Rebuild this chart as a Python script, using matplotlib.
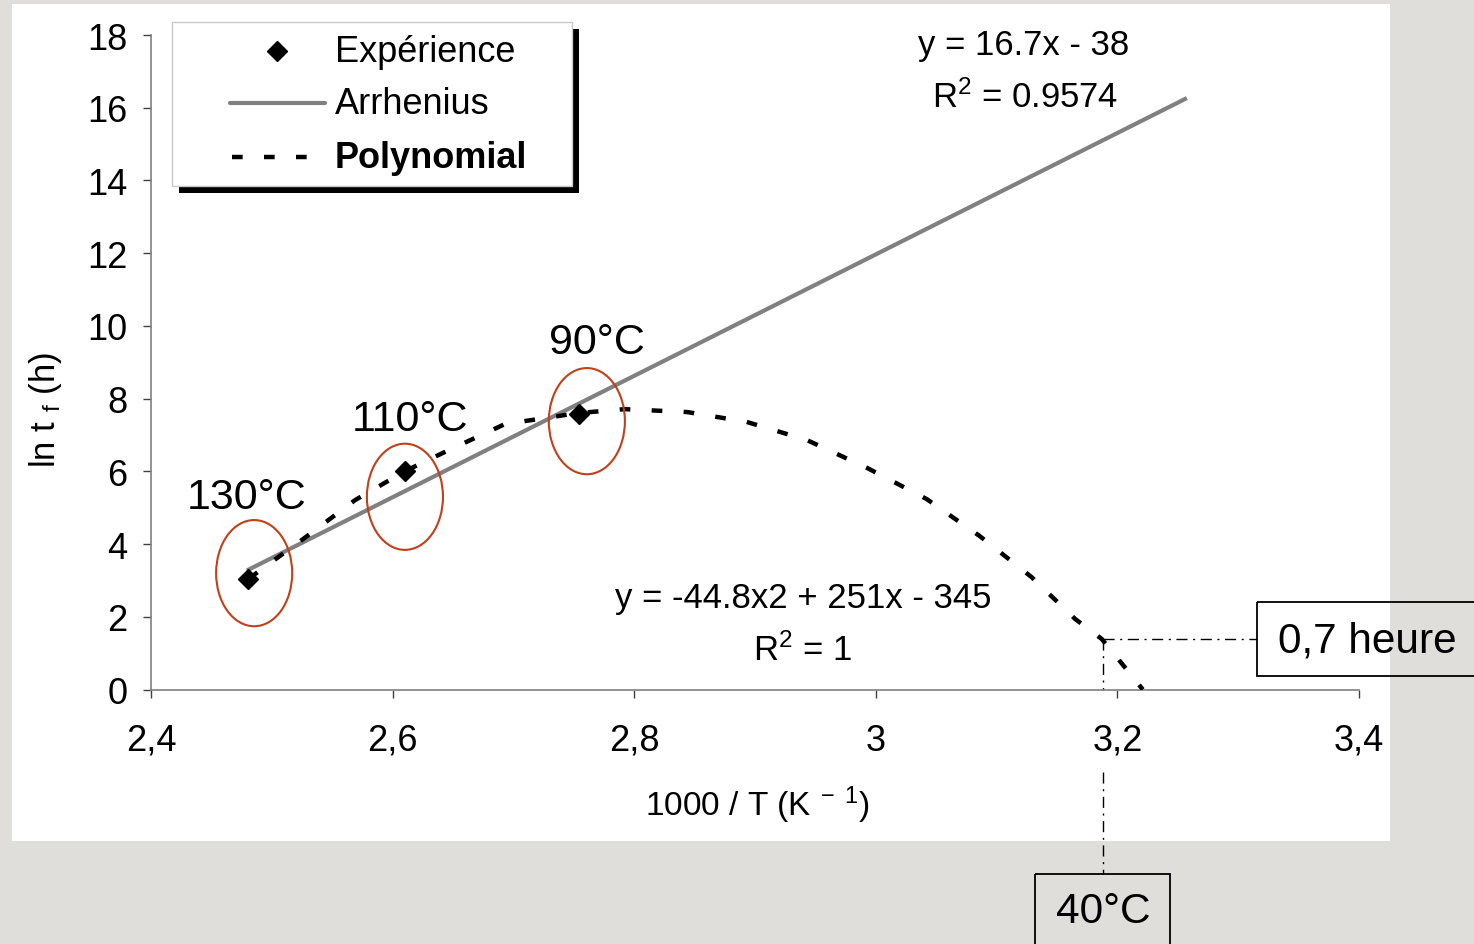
import matplotlib
matplotlib.use("Agg")
import matplotlib.pyplot as plt
import matplotlib.transforms as mtransforms
from matplotlib.patches import Rectangle, Ellipse
from matplotlib.lines import Line2D

plt.rcParams['font.family'] = ['Liberation Sans', 'DejaVu Sans']
plt.rcParams['mathtext.fontset'] = 'custom'
plt.rcParams['mathtext.rm'] = 'Liberation Sans'
plt.rcParams['mathtext.it'] = 'Liberation Sans:italic'

# experimental points (1000/T, ln tf)
temp_labels = ['130°C', '110°C', '90°C']
exp_x = [2.4805, 2.610, 2.754]
exp_y = [3.03, 6.00, 7.57]

# Arrhenius fit line (end points)
arr_x = [2.481, 3.256]
arr_y = [3.30, 16.24]

# polynomial trend line
poly_x = [2.481, 2.526, 2.569, 2.610, 2.645, 2.693, 2.753, 2.792, 2.844, 2.893,
          2.943, 2.993, 3.042, 3.086, 3.129, 3.165, 3.187, 3.204, 3.221]
poly_y = [3.05, 4.14, 5.21, 6.00, 6.56, 7.30, 7.60, 7.71, 7.63, 7.36,
          6.86, 6.09, 5.24, 4.22, 3.09, 1.94, 1.39, 0.70, 0.0]

# extrapolated point (40°C, 0,7 heure)
x40 = 3.188
y40 = 1.39

legend_names = ['Expérience', 'Arrhenius', 'Polynomial']
arr_eq = ['y = 16.7x - 38', 'R$^2$ = 0.9574']
poly_eq = ['y = -44.8x2 + 251x - 345', 'R$^2$ = 1']

x_ticks = [2.4, 2.6, 2.8, 3.0, 3.2, 3.4]
x_tick_labels = ['2,4', '2,6', '2,8', '3', '3,2', '3,4']
y_ticks = [0, 2, 4, 6, 8, 10, 12, 14, 16, 18]

W, H = 1474, 945
fig = plt.figure(figsize=(W / 100, H / 100), dpi=100, facecolor='#dfdeda')
# pixel coords, origin top-left
T = mtransforms.Affine2D().scale(1 / W, -1 / H).translate(0, 1) + fig.transFigure

fig.add_artist(Rectangle((12, 5), 1378, 837, transform=T, facecolor='white',
                         edgecolor='none', zorder=0))

ax = fig.add_axes([151 / W, 1 - 690.5 / H, 1208 / W, 654.5 / H])
ax.set_facecolor('none')
ax.set_xlim(2.4, 3.4)
ax.set_ylim(0, 18)

gray = '#808080'
for s in ['top', 'right']:
    ax.spines[s].set_visible(False)
for s in ['left', 'bottom']:
    ax.spines[s].set_color(gray)
    ax.spines[s].set_linewidth(1.2)
ax.set_xticks(x_ticks)
ax.set_xticklabels(x_tick_labels)
ax.set_yticks(y_ticks)
ax.tick_params(axis='both', direction='out', length=6, width=1, color='#404040',
               labelsize=26)
ax.tick_params(axis='x', pad=18)
ax.tick_params(axis='y', pad=11)

ax.plot(arr_x, arr_y, color=gray, lw=3, zorder=3)
ax.plot(poly_x, poly_y, color='black', lw=3.2, linestyle=(0, (2.4, 4.8)), zorder=4)
ax.plot(exp_x, exp_y, 'D', color='black', markersize=10, zorder=5)

# ellipses + temperature labels
ell_x = [2.4854, 2.6102, 2.7608]
ell_y = [3.20, 5.30, 7.38]
lab_x = [2.4795, 2.614, 2.769]
lab_y = [5.29, 7.44, 9.56]
for ex, ey, lx, ly, t in zip(ell_x, ell_y, lab_x, lab_y, temp_labels):
    ax.add_patch(Ellipse((ex, ey), 0.063, 2.92, fill=False, edgecolor='#c0401a',
                         lw=1.5, zorder=6))
    ax.text(lx, ly, t, fontsize=31, ha='center', va='center')

ax.text(3.1227, 17.75, arr_eq[0], fontsize=25, ha='center', va='center')
ax.text(3.1235, 16.32, arr_eq[1], fontsize=25, ha='center', va='center')
ax.text(2.9397, 2.54, poly_eq[0], fontsize=25, ha='center', va='center')
ax.text(2.939, 1.11, poly_eq[1], fontsize=25, ha='center', va='center')

ax.set_xlabel('1000 / T (K$^{\\mathrm{\\ -\\ 1}}$)', fontsize=24)
ax.set_ylabel('ln t $_{\\mathrm{f}}$ (h)', fontsize=25)
ax.xaxis.set_label_coords(0.5017, -0.175)
ax.xaxis.label.set_va('center')
ax.yaxis.set_label_coords(-0.0877, 0.4286)
ax.yaxis.label.set_va('center')

# guide lines to 40°C / 0,7 heure
dd = (0, (8, 4, 1.5, 4))
ax.plot([x40, 3.3156], [y40, y40], color='black', lw=1, linestyle=dd, clip_on=False)
ax.plot([x40, x40], [y40, 0], color='black', lw=1, linestyle=dd, clip_on=False)
ax.plot([x40, x40], [-2.28, -5.07], color='black', lw=1, linestyle=dd, clip_on=False)

# annotation boxes (pixel coords)
fig.add_artist(Rectangle((1257, 603), 240, 74, transform=T, facecolor='none',
                         edgecolor='black', lw=1.3, zorder=5))
fig.text(1278 / W, 1 - 641 / H, '0,7 heure', fontsize=30.5, ha='left', va='center')
fig.add_artist(Rectangle((1035, 875), 135, 100, transform=T, facecolor='none',
                         edgecolor='black', lw=1.3, zorder=5))
fig.text(1103 / W, 1 - 912 / H, '40°C', fontsize=30.5, ha='center', va='center')

# legend box drawn by hand (offset black shadow)
fig.add_artist(Rectangle((179, 30), 400, 164, transform=T, facecolor='black',
                         edgecolor='none', zorder=7))
fig.add_artist(Rectangle((172, 23), 400, 164, transform=T, facecolor='white',
                         edgecolor='#c8c8c8', lw=1, zorder=8))
fig.add_artist(Line2D([277], [52], transform=T, marker='D', color='black',
                      markersize=10, linestyle='none', zorder=9))
fig.add_artist(Line2D([230, 325], [104, 104], transform=T, color=gray, lw=3,
                      solid_capstyle='round', zorder=9))
fig.add_artist(Line2D([232, 325], [158, 158], transform=T, color='black', lw=3.2,
                      linestyle=(0, (2.4, 4.8)), zorder=9))
for yy, name in zip([52, 104, 158], legend_names):
    fig.text(335 / W, 1 - yy / H, name, fontsize=26, ha='left', va='center',
             fontweight='bold' if name == 'Polynomial' else 'normal', zorder=9)

fig.savefig('out.png', dpi=100, facecolor=fig.get_facecolor())
